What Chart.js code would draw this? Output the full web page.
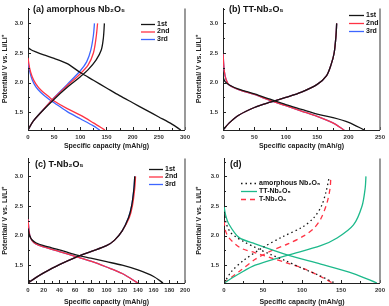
<!DOCTYPE html>
<html>
<head>
<meta charset="utf-8">
<script src="https://cdn.jsdelivr.net/npm/chart.js@4/dist/chart.umd.min.js"></script>
<style>
  body { margin: 0; background: #fff; }
  #wrap { position: relative; width: 389px; height: 306px; }
  canvas { position: absolute; }
</style>
</head>
<body>
<div id="wrap">
  <canvas id="panelA" width="194" height="153" style="left:0;top:0"></canvas>
  <canvas id="panelB" width="195" height="153" style="left:194px;top:0"></canvas>
  <canvas id="panelC" width="194" height="156" style="left:0;top:150px"></canvas>
  <canvas id="panelD" width="195" height="156" style="left:194px;top:150px"></canvas>
</div>
<script>
// (a) amorphous Nb2O5 - capacity (mAh/g) and potential (V)
const aDis1Cap = [0, 0, 5, 15, 30, 50, 75, 100, 125, 150, 175, 200, 225, 250, 275, 292];
const aDis1V = [2.78, 2.6, 2.56, 2.52, 2.47, 2.41, 2.32, 2.17, 2.04, 1.91, 1.78, 1.66, 1.54, 1.42, 1.30, 1.2];
const aCha1Cap = [0, 10, 25, 50, 75, 100, 115, 130, 140, 144, 146];
const aCha1V = [1.2, 1.35, 1.5, 1.72, 1.92, 2.1, 2.22, 2.38, 2.55, 2.75, 3.0];
const aDis2Cap = [0, 3, 8, 15, 25, 40, 50, 75, 100, 125, 147];
const aDis2V = [2.42, 2.25, 2.1, 1.98, 1.87, 1.76, 1.69, 1.56, 1.45, 1.32, 1.2];
const aCha2Cap = [0, 10, 25, 45, 75, 100, 115, 125, 130, 133];
const aCha2V = [1.2, 1.35, 1.5, 1.7, 1.95, 2.15, 2.3, 2.5, 2.75, 3.0];
const aDis3Cap = [0, 3, 8, 15, 25, 40, 50, 75, 100, 125, 137];
const aDis3V = [2.35, 2.2, 2.05, 1.93, 1.83, 1.72, 1.66, 1.51, 1.39, 1.27, 1.2];
const aCha3Cap = [0, 10, 25, 45, 75, 100, 112, 120, 125, 127];
const aCha3V = [1.2, 1.35, 1.5, 1.7, 1.97, 2.2, 2.35, 2.55, 2.8, 3.0];

// (b) TT-Nb2O5
const bDis1Cap = [0, 3, 10, 25, 50, 75, 100, 125, 150, 175, 200, 225];
const bDis1V = [2.1, 2.02, 1.96, 1.89, 1.81, 1.72, 1.63, 1.55, 1.47, 1.41, 1.33, 1.2];
const bDisCap = [0, 2, 5, 10, 25, 50, 75, 100, 125, 150, 175, 193];
const bDisV = [2.5, 2.2, 2.05, 1.96, 1.88, 1.8, 1.7, 1.61, 1.52, 1.43, 1.32, 1.2];
const bChaCap = [0, 10, 25, 50, 75, 100, 125, 150, 165, 172, 177, 180, 181];
const bChaV = [1.2, 1.32, 1.45, 1.58, 1.67, 1.75, 1.84, 1.97, 2.12, 2.3, 2.5, 2.8, 3.0];

// (c) T-Nb2O5
const cDis1Cap = [0, 2, 5, 10, 20, 40, 60, 80, 100, 120, 140, 160, 172];
const cDis1V = [2.12, 2.0, 1.93, 1.88, 1.83, 1.76, 1.68, 1.62, 1.56, 1.5, 1.42, 1.31, 1.2];
const cDisCap = [0, 2, 5, 10, 20, 40, 60, 80, 100, 120, 140];
const cDisV = [2.28, 2.02, 1.92, 1.86, 1.81, 1.73, 1.65, 1.57, 1.47, 1.36, 1.2];
const cChaCap = [0, 10, 20, 40, 60, 80, 100, 110, 120, 128, 132, 135, 136];
const cChaV = [1.2, 1.29, 1.37, 1.51, 1.63, 1.73, 1.83, 1.92, 2.08, 2.3, 2.5, 2.8, 3.0];
const cCha2Cap = [0, 10, 20, 40, 60, 80, 100, 110, 120, 129, 133, 136, 137];

// (d) comparison
const dAmDisCap = [0, 3, 8, 15, 25, 40, 60, 80, 100, 120, 142];
const dAmDisV = [2.4, 2.2, 2.06, 1.98, 1.9, 1.8, 1.68, 1.57, 1.45, 1.34, 1.2];
const dAmChaCap = [0, 10, 25, 50, 75, 100, 115, 125, 131, 135];
const dAmChaV = [1.2, 1.4, 1.58, 1.8, 1.98, 2.14, 2.3, 2.5, 2.75, 3.0];
const dTTDisCap = [0, 2, 6, 19, 40, 82, 124, 166, 196];
const dTTDisV = [2.5, 2.35, 2.2, 1.97, 1.86, 1.67, 1.52, 1.36, 1.2];
const dTTChaCap = [0, 20, 40, 82, 124, 145, 166, 177, 181, 182];
const dTTChaV = [1.2, 1.36, 1.5, 1.67, 1.83, 1.96, 2.18, 2.5, 2.8, 3.0];
const dTDisCap = [0, 2, 6, 15, 23, 40, 61, 80, 103, 128, 139];
const dTDisV = [2.25, 2.08, 1.97, 1.85, 1.78, 1.71, 1.62, 1.54, 1.44, 1.28, 1.2];
const dTChaCap = [0, 10, 20, 40, 60, 82, 103, 115, 124, 132, 136, 137];
const dTChaV = [1.2, 1.3, 1.4, 1.6, 1.74, 1.86, 2.0, 2.12, 2.28, 2.55, 2.8, 3.0];

const yTicks = [1.5, 2.0, 2.5, 3.0];

const BLACK = '#151515';
const RED = '#ff3344';
const BLUE = '#3d66ff';
const GREEN = '#1db98b';

function pts(xs, ys) {
    return xs.map((x, i) => ({ x: x, y: ys[i] }));
}

function serie(xs, ys, color, dash) {
    return {
        data: pts(xs, ys),
        borderColor: color,
        borderWidth: 1.3,
        borderDash: dash || [],
        showLine: true,
        pointRadius: 0,
        tension: 0.3
    };
}

// draws inward ticks, right border, panel title and the legend
function decoPlugin(info) {
    return {
        id: 'deco',
        afterDraw(chart) {
            const ctx = chart.ctx;
            const area = chart.chartArea;
            const xs = chart.scales.x;
            const ys = chart.scales.y;
            ctx.save();
            ctx.strokeStyle = '#222';
            ctx.lineWidth = 1;
            ctx.beginPath();
            for (let v = 0; v <= info.xMax; v += info.xMinor) {
                const px = Math.round(xs.getPixelForValue(v)) + 0.5;
                const len = (Math.round(v / info.xMinor) % 2 === 0) ? 3 : 2;
                ctx.moveTo(px, area.bottom);
                ctx.lineTo(px, area.bottom - len);
            }
            for (let v = 1.25; v <= 3.26; v += 0.25) {
                const py = Math.round(ys.getPixelForValue(v)) + 0.5;
                const len = (Math.round(v * 4) % 2 === 0) ? 3 : 2;
                ctx.moveTo(area.left, py);
                ctx.lineTo(area.left + len, py);
            }
            ctx.stroke();
            ctx.strokeStyle = '#777';
            ctx.lineWidth = 1.5;
            ctx.beginPath();
            ctx.moveTo(area.right, area.top);
            ctx.lineTo(area.right, area.bottom);
            ctx.stroke();

            ctx.fillStyle = '#111';
            ctx.font = 'bold 9px "Liberation Sans", Arial, sans-serif';
            ctx.textBaseline = 'middle';
            ctx.fillText(info.title, info.titleX, info.titleY);

            ctx.font = 'bold 7px "Liberation Sans", Arial, sans-serif';
            info.legend.forEach((item, i) => {
                const y = info.legY + i * info.legGap;
                ctx.strokeStyle = item.color;
                ctx.lineWidth = 1.3;
                ctx.setLineDash(item.dash || []);
                ctx.beginPath();
                ctx.moveTo(info.legX, y + 0.5);
                ctx.lineTo(info.legX + info.legLen, y + 0.5);
                ctx.stroke();
                ctx.setLineDash([]);
                ctx.fillStyle = '#111';
                ctx.fillText(item.label, info.legX + info.legLen + 2, y);
            });
            ctx.restore();
        }
    };
}

function makeChart(id, datasets, xMax, xStep, yMax, axisW, padRight, titlePad, info) {
    info.xMax = xMax;
    info.xMinor = xStep / 2;
    return new Chart(document.getElementById(id), {
        type: 'scatter',
        data: { datasets: datasets },
        options: {
            responsive: false,
            animation: false,
            layout: { padding: { top: 2, right: padRight, left: 0, bottom: 0 } },
            plugins: { legend: { display: false }, tooltip: { enabled: false } },
            scales: {
                x: {
                    type: 'linear',
                    min: 0,
                    max: xMax,
                    grid: { display: false, drawTicks: false },
                    border: { display: true, color: '#222', width: 1 },
                    ticks: {
                        stepSize: xStep,
                        padding: 4,
                        maxRotation: 0,
                        color: '#333',
                        font: { size: 6, weight: 'bold', family: '"Liberation Sans", Arial, sans-serif' }
                    },
                    title: {
                        display: true,
                        text: 'Specific capacity (mAh/g)',
                        color: '#222',
                        padding: { top: 0, bottom: titlePad },
                        font: { size: 7, weight: 'bold', family: '"Liberation Sans", Arial, sans-serif' }
                    },
                    afterFit(scale) { scale.height = 23; }
                },
                y: {
                    type: 'linear',
                    min: 1.2,
                    max: yMax,
                    grid: { display: false, drawTicks: false },
                    border: { display: true, color: '#222', width: 1 },
                    afterBuildTicks(scale) { scale.ticks = yTicks.map(v => ({ value: v })); },
                    ticks: {
                        padding: 5,
                        color: '#333',
                        callback: v => v.toFixed(1),
                        font: { size: 6, weight: 'bold', family: '"Liberation Sans", Arial, sans-serif' }
                    },
                    title: {
                        display: true,
                        text: 'Potential/ V vs. Li/Li\u207A',
                        color: '#222',
                        padding: { top: 1, bottom: 1 },
                        font: { size: 7, weight: 'bold', family: '"Liberation Sans", Arial, sans-serif' }
                    },
                    afterFit(scale) { scale.width = axisW; }
                }
            }
        },
        plugins: [decoPlugin(info)]
    });
}

makeChart('panelA', [
    serie(aDis1Cap, aDis1V, BLACK), serie(aCha1Cap, aCha1V, BLACK),
    serie(aDis2Cap, aDis2V, RED), serie(aCha2Cap, aCha2V, RED),
    serie(aDis3Cap, aDis3V, BLUE), serie(aCha3Cap, aCha3V, BLUE)
], 300, 50, 3.25, 28, 6, 3, {
    title: '(a) amorphous Nb\u2082O\u2085', titleX: 33, titleY: 10,
    legX: 141, legY: 24, legGap: 7.5, legLen: 14,
    legend: [{ label: '1st', color: BLACK }, { label: '2nd', color: RED }, { label: '3rd', color: BLUE }]
});

makeChart('panelB', [
    serie(bDis1Cap, bDis1V, BLACK), serie(bChaCap, bChaV, BLACK),
    serie(bDisCap, bDisV, RED), serie(bChaCap, bChaV, RED),
    serie(bDisCap, bDisV, BLUE), serie(bChaCap, bChaV, BLUE)
], 250, 50, 3.25, 29, 7, 3, {
    title: '(b) TT-Nb\u2082O\u2085', titleX: 35, titleY: 10,
    legX: 155, legY: 15, legGap: 8, legLen: 15,
    legend: [{ label: '1st', color: BLACK }, { label: '2nd', color: RED }, { label: '3rd', color: BLUE }]
});

makeChart('panelC', [
    serie(cDis1Cap, cDis1V, BLACK), serie(cChaCap, cChaV, BLACK),
    serie(cDisCap, cDisV, RED), serie(cCha2Cap, cChaV, RED),
    serie(cDisCap, cDisV, BLUE), serie(cChaCap, cChaV, BLUE)
], 200, 20, 3.3, 28, 6, 0, {
    title: '(c) T-Nb\u2082O\u2085', titleX: 35, titleY: 15,
    legX: 149, legY: 19, legGap: 7.5, legLen: 14,
    legend: [{ label: '1st', color: BLACK }, { label: '2nd', color: RED }, { label: '3rd', color: BLUE }]
});

makeChart('panelD', [
    serie(dAmDisCap, dAmDisV, BLACK, [1.5, 3]), serie(dAmChaCap, dAmChaV, BLACK, [1.5, 3]),
    serie(dTTDisCap, dTTDisV, GREEN), serie(dTTChaCap, dTTChaV, GREEN),
    serie(dTDisCap, dTDisV, RED, [5, 4]), serie(dTChaCap, dTChaV, RED, [5, 4])
], 200, 50, 3.3, 30, 7, 0, {
    title: '(d)', titleX: 36, titleY: 15,
    legX: 47, legY: 33, legGap: 8, legLen: 16,
    legend: [
        { label: 'amorphous Nb\u2082O\u2085', color: BLACK, dash: [1.5, 3] },
        { label: 'TT-Nb\u2082O\u2085', color: GREEN },
        { label: 'T-Nb\u2082O\u2085', color: RED, dash: [5, 4] }
    ]
});
</script>
</body>
</html>
